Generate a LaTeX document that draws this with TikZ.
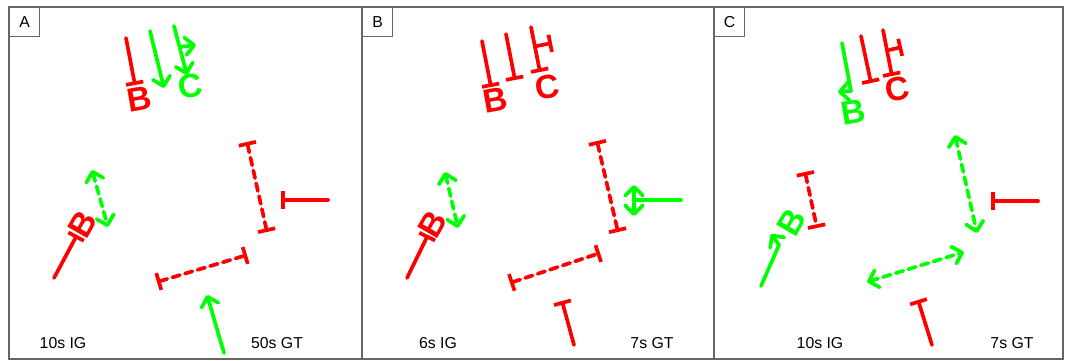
\documentclass[tikz,border=0pt]{standalone}
\usepackage{fontspec}
\setmainfont{Liberation Sans}
\usetikzlibrary{arrows.meta}

\begin{document}
\begin{tikzpicture}[
	x=0.02cm, y=-0.02cm,
	panel/.style={
		draw=black!60,
		line width=0.7pt
	},
	panelkey/.style={
		draw=black!60,
		line width=0.6pt,
		anchor=north west,
		minimum width=0.6cm,
		minimum height=0.58cm,
		inner sep=0pt,
		font=\fontsize{9}{10}\selectfont
	},
	caption/.style={
		font=\fontsize{9}{10}\selectfont
	},
	gene/.style={
		inner sep=0pt,
		font=\fontsize{19}{20}\selectfont\bfseries
	},
	inh/.style={red, line width=2.1pt, line cap=round},
	act/.style={green, line width=2.1pt, line cap=round},
	broken/.style={dash pattern=on 4.5pt off 3pt},
	tee/.style={-{Bar[width=10pt]}},
	teetee/.style={{Bar[width=10pt]}-{Bar[width=10pt]}},
	pointy/.style={-{Straight Barb[length=5pt,width=10pt,round]}},
	twoway/.style={{Straight Barb[length=5pt,width=10pt,round]}-{Straight Barb[length=5pt,width=10pt,round]}}
	]
	
	\useasboundingbox (0,0) rectangle (1065,361);
	
	% -------------------------------------------------------------------------
	% Frames and panel keys
	% -------------------------------------------------------------------------
	
	\draw[panel] (9,7) rectangle (1063,359);
	\draw[panel] (362,7) -- (362,359);
	\draw[panel] (714,7) -- (714,359);
	
	\node[panelkey] (keyA) at (9,7) {A};
	\node[panelkey] (keyB) at (362,7) {B};
	\node[panelkey] (keyC) at (714,7) {C};
	
	% -------------------------------------------------------------------------
	% Panel A
	% -------------------------------------------------------------------------
	
	\coordinate (a1s) at (126,38);  \coordinate (a1e) at (135,85);
	\coordinate (a2s) at (150,31);  \coordinate (a2e) at (164,88);
	\coordinate (a3s) at (174,26);  \coordinate (a3e) at (187,75);
	\coordinate (a3m) at (180,47);  \coordinate (a3t) at (196,45);
	\coordinate (a4s) at (92,170);  \coordinate (a4e) at (108,227);
	\coordinate (a5s) at (54,278);  \coordinate (a5e) at (77,235);
	\coordinate (a6s) at (247,142); \coordinate (a6e) at (267,232);
	\coordinate (a7s) at (328,200); \coordinate (a7e) at (281,200);
	\coordinate (a8s) at (157,282); \coordinate (a8e) at (247,255);
	\coordinate (a9s) at (224,353); \coordinate (a9e) at (207,295);
	
	\draw[inh,tee] (a1s) -- (a1e);
	\node[gene,red,rotate=10] (aB) at (139,99) {B};
	\draw[act,pointy] (a2s) -- (a2e);
	\draw[act,pointy] (a3s) -- (a3e);
	\draw[act,pointy] (a3m) -- (a3t);
	\node[gene,green,rotate=10] (aC) at (190,86) {C};
	
	\draw[act,broken,twoway] (a4s) -- (a4e);
	\draw[inh,tee] (a5s) -- (a5e);
	\node[gene,red,rotate=60] (aB2) at (83,224) {B};
	
	\draw[inh,broken,teetee] (a6s) -- (a6e);
	\draw[inh,tee] (a7s) -- (a7e);
	\draw[inh,broken,teetee] (a8s) -- (a8e);
	\draw[act,pointy] (a9s) -- (a9e);
	
	\node[caption] (capA1) at (63,343) {10s IG};
	\node[caption] (capA2) at (277,343) {50s GT};
	
	% -------------------------------------------------------------------------
	% Panel B
	% -------------------------------------------------------------------------
	
	\coordinate (b1s) at (482,41);  \coordinate (b1e) at (491,87);
	\coordinate (b2s) at (506,34);  \coordinate (b2e) at (515,80);
	\coordinate (b3s) at (531,27);  \coordinate (b3e) at (540,72);
	\coordinate (b3m) at (537,46);  \coordinate (b3t) at (552,43);
	\coordinate (b4s) at (445,172); \coordinate (b4e) at (458,228);
	\coordinate (b5s) at (407,278); \coordinate (b5e) at (428,235);
	\coordinate (b6s) at (597,141); \coordinate (b6e) at (618,232);
	\coordinate (b7s) at (681,200); \coordinate (b7e) at (634,200);
	\coordinate (b7u) at (634,185); \coordinate (b7d) at (634,216);
	\coordinate (b8s) at (510,283); \coordinate (b8e) at (600,253);
	\coordinate (b9s) at (574,345); \coordinate (b9e) at (562,301);
	
	\draw[inh,tee] (b1s) -- (b1e);
	\node[gene,red,rotate=10] (bB) at (495,100) {B};
	\draw[inh,tee] (b2s) -- (b2e);
	\draw[inh,tee] (b3s) -- (b3e);
	\draw[inh,tee] (b3m) -- (b3t);
	\node[gene,red,rotate=10] (bC) at (547,87) {C};
	
	\draw[act,broken,twoway] (b4s) -- (b4e);
	\draw[inh,tee] (b5s) -- (b5e);
	\node[gene,red,rotate=60] (bB2) at (433,224) {B};
	
	\draw[inh,broken,teetee] (b6s) -- (b6e);
	\draw[act] (b7s) -- (b7e);
	\draw[act,twoway] (b7u) -- (b7d);
	\draw[inh,broken,teetee] (b8s) -- (b8e);
	\draw[inh,tee] (b9s) -- (b9e);
	
	\node[caption] (capB1) at (438,343) {6s IG};
	\node[caption] (capB2) at (652,343) {7s GT};
	
	% -------------------------------------------------------------------------
	% Panel C
	% -------------------------------------------------------------------------
	
	\coordinate (c1s) at (842,43);  \coordinate (c1e) at (851,91);
	\coordinate (c1t) at (838,92);
	\coordinate (c2s) at (861,36);  \coordinate (c2e) at (871,83);
	\coordinate (c3s) at (883,30);  \coordinate (c3e) at (892,76);
	\coordinate (c3m) at (889,50);  \coordinate (c3t) at (902,47);
	\coordinate (c4s) at (805,172); \coordinate (c4e) at (817,228);
	\coordinate (c5s) at (761,286); \coordinate (c5e) at (779,245);
	\coordinate (c5t) at (771,234);
	\coordinate (c6s) at (955,135); \coordinate (c6e) at (977,233);
	\coordinate (c7s) at (1038,201); \coordinate (c7e) at (991,201);
	\coordinate (c8s) at (867,282); \coordinate (c8e) at (964,252);
	\coordinate (c9s) at (932,345); \coordinate (c9e) at (918,300);
	
	\draw[act] (c1s) -- (c1e);
	\draw[act,pointy] (c1e) -- (c1t);
	\node[gene,green,rotate=10] (cB) at (853,112) {B};
	\draw[inh,tee] (c2s) -- (c2e);
	\draw[inh,tee] (c3s) -- (c3e);
	\draw[inh,tee] (c3m) -- (c3t);
	\node[gene,red,rotate=10] (cC) at (897,89) {C};
	
	\draw[inh,broken,teetee] (c4s) -- (c4e);
	\draw[act] (c5s) -- (c5e);
	\draw[act,pointy] (c5e) -- (c5t);
	\node[gene,green,rotate=60] (cB2) at (792,222) {B};
	
	\draw[act,broken,twoway] (c6s) -- (c6e);
	\draw[inh,tee] (c7s) -- (c7e);
	\draw[act,broken,twoway] (c8s) -- (c8e);
	\draw[inh,tee] (c9s) -- (c9e);
	
	\node[caption] (capC1) at (820,343) {10s IG};
	\node[caption] (capC2) at (1012,343) {7s GT};
	
\end{tikzpicture}
\end{document}
